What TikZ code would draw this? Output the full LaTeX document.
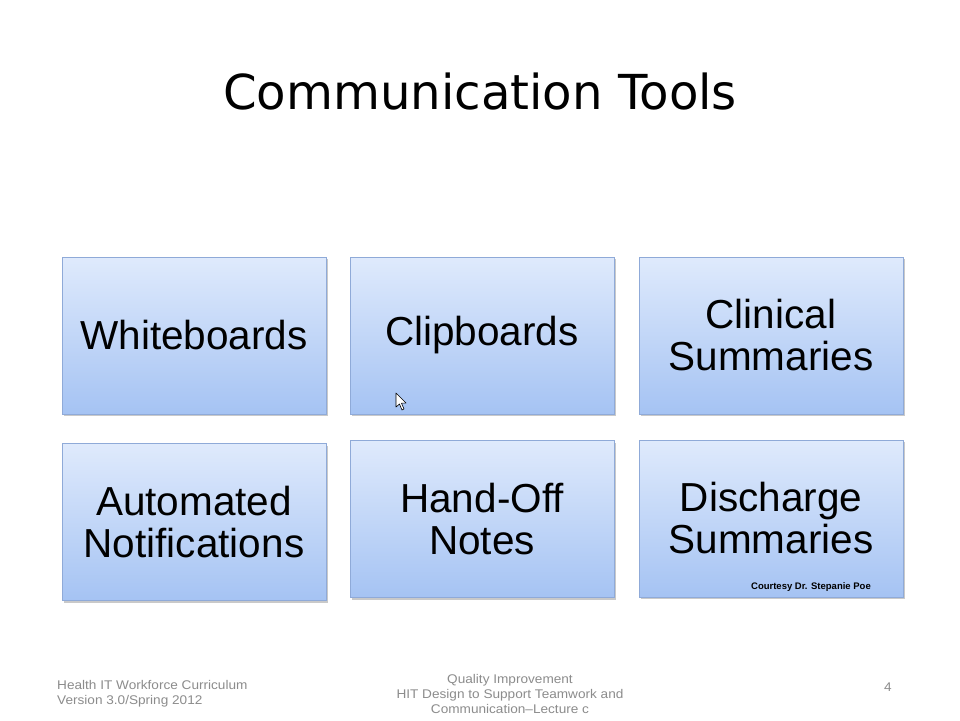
\documentclass[tikz,border=0pt]{standalone}
\usepackage{fontspec}
\setmainfont{Liberation Sans}
\newfontfamily\titlefont{DejaVu Sans}
\newfontfamily\footfont[FakeStretch=1.08]{Liberation Sans}
\usetikzlibrary{shadows}
\definecolor{boxtop}{HTML}{DFEAFC}
\definecolor{boxbot}{HTML}{A5C3F3}
\definecolor{boxline}{HTML}{8FAAD8}
\definecolor{foot}{HTML}{8C8C8C}
\tikzset{
  toolbox/.style={draw=boxline, line width=1pt, top color=boxtop, bottom color=boxbot,
    minimum width=264pt, minimum height=157pt, inner sep=0pt, align=center,
    font=\fontsize{40.5}{42}\selectfont,
    drop shadow={shadow xshift=1.5pt, shadow yshift=-2pt, opacity=0.35, fill=black!60}},
  foottext/.style={text=foot, font=\footfont\fontsize{12.6}{15.3}\selectfont, inner sep=0pt}
}
\begin{document}
\begin{tikzpicture}[x=1pt,y=-1pt]
\useasboundingbox (0,0) rectangle (960,720);
\fill[white] (0,0) rectangle (960,720);
\node[font=\titlefont\fontsize{48.2}{50}\selectfont, inner sep=0pt] (title) at (480,92) {Communication Tools};

\node[toolbox] (wb) at (194,335.5) {Whiteboards};
\node[toolbox] (cb) at (482,335.5) {Clipboards};
\node[toolbox] (cs) at (771,335.5) {Clinical\\Summaries};
\node[toolbox] (an) at (194,522) {Automated\\Notifications};
\node[toolbox] (ho) at (482,519) {Hand-Off\\Notes};
\node[toolbox] (ds) at (771,518.5) {Discharge\\Summaries};

\node[font=\bfseries\fontsize{9.5}{11}\selectfont, inner sep=0pt, anchor=east] (court) at (871,587) {Courtesy Dr. Stepanie Poe};

% mouse cursor
\draw[fill=white, line width=0.6pt, line join=round]
  (396,393) -- (396,407) -- (399.5,404) -- (402,410) -- (404,409) -- (401.5,403.2) -- (406,403) -- cycle;

\node[foottext, align=left, anchor=west] (fl) at (57,694) {Health IT Workforce Curriculum\\Version 3.0/Spring 2012};
\node[foottext, align=center] (fc) at (510,694) {Quality Improvement\\HIT Design to Support Teamwork and\\Communication–Lecture c};
\node[foottext] (fr) at (888,687) {4};
\end{tikzpicture}
\end{document}
